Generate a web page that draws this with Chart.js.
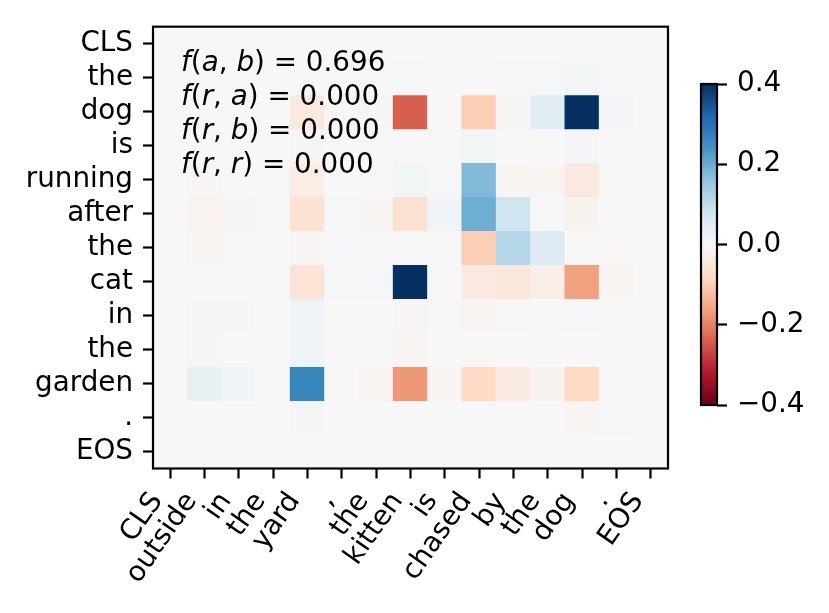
<!DOCTYPE html>
<html>
<head>
<meta charset="utf-8">
<script src="https://cdn.jsdelivr.net/npm/chart.js@4.4.1/dist/chart.umd.min.js"></script>
<style>
    html, body { margin: 0; padding: 0; background: #fff; }
    #wrap { position: relative; width: 829px; height: 613px; overflow: hidden; }
    #heatCanvas { position: absolute; left: 0; top: 0; }
    #barCanvas { position: absolute; left: 690px; top: 0; }
    #note {
        position: absolute; left: 181px; top: 44.7px;
        font-family: "DejaVu Sans"; font-size: 27.8px; line-height: 34px;
        color: #000; white-space: pre;
    }
</style>
</head>
<body>
<div id="wrap">
    <canvas id="heatCanvas" width="690" height="613"></canvas>
    <canvas id="barCanvas" width="139" height="613"></canvas>
    <div id="note"><i>f</i>(<i>a</i>, <i>b</i>) = 0.696
<i>f</i>(<i>r</i>, <i>a</i>) = 0.000
<i>f</i>(<i>r</i>, <i>b</i>) = 0.000
<i>f</i>(<i>r</i>, <i>r</i>) = 0.000</div>
</div>
<script>
// tokens
const rowLabels = ['CLS', 'the', 'dog', 'is', 'running', 'after', 'the', 'cat', 'in', 'the', 'garden', '.', 'EOS'];
const colLabels = ['CLS', 'outside', 'in', 'the', 'yard', ',', 'the', 'kitten', 'is', 'chased', 'by', 'the', 'dog', '.', 'EOS'];

// one array per row, one value per column
const rowCLS     = [0, 0, 0, 0, 0, 0, 0, 0, 0, 0, 0, 0, 0, 0, 0];
const rowThe1    = [0, 0, 0, 0, 0, 0, 0, 0.005, 0, 0, -0.003, 0.005, 0.01, 0, 0];
const rowDog     = [0, 0, 0, 0, -0.04, -0.003, 0.008, -0.24, 0, -0.1, -0.005, 0.045, 0.42, 0.008, 0];
const rowIs      = [0, 0, 0, 0, -0.005, 0, 0, 0, 0.003, 0.01, 0.003, 0, 0.008, 0, 0];
const rowRunning = [0, -0.005, 0, 0, -0.03, 0, 0, 0.01, 0.003, 0.178, -0.008, -0.008, -0.04, 0, 0];
const rowAfter   = [0, -0.012, -0.006, 0, -0.06, 0.004, -0.01, -0.065, 0.015, 0.196, 0.08, 0.002, -0.015, 0, 0];
const rowThe2    = [0, -0.008, -0.004, 0, -0.005, 0.005, 0, 0, 0, -0.1, 0.117, 0.053, 0, -0.004, 0];
const rowCat     = [0, 0.004, 0.004, 0, -0.055, 0.004, 0.004, 0.45, 0, -0.04, -0.045, -0.025, -0.165, -0.008, 0];
const rowIn      = [0, 0.008, 0.006, 0, 0.018, 0, 0, -0.005, 0, -0.01, -0.003, 0, 0.005, 0, 0];
const rowThe3    = [0, 0.006, 0.005, 0, 0.02, 0, 0, -0.008, 0, -0.004, 0, 0, 0, 0, 0];
const rowGarden  = [0, 0.03, 0.015, 0.003, 0.263, 0, -0.008, -0.175, -0.01, -0.08, -0.035, -0.015, -0.08, 0, 0];
const rowDot     = [0, 0, 0, 0, 0.006, 0, 0, 0, 0, 0, 0, 0, -0.01, 0.004, 0];
const rowEOS     = [0, 0, 0, 0, 0, 0, 0, 0, 0, 0, 0, 0, 0, 0, 0];

const rows = [rowCLS, rowThe1, rowDog, rowIs, rowRunning, rowAfter, rowThe2,
              rowCat, rowIn, rowThe3, rowGarden, rowDot, rowEOS];

// colour bar
const vMin = -0.4;
const vMax = 0.4;
const cbTicks = [-0.4, -0.2, 0, 0.2, 0.4];

// RdBu anchor colours
const rdbuStops = [
    [103, 0, 31], [178, 24, 43], [214, 96, 77], [244, 165, 130], [253, 219, 199],
    [247, 247, 247], [209, 229, 240], [146, 197, 222], [67, 147, 195], [33, 102, 172], [5, 48, 97]
];

function rdbu(v) {
    let t = (v - vMin) / (vMax - vMin);
    t = Math.min(1, Math.max(0, t));
    const p = t * 10;
    const i = Math.min(9, Math.floor(p));
    const f = p - i;
    const a = rdbuStops[i];
    const b = rdbuStops[i + 1];
    const c = a.map((x, k) => Math.round(x + (b[k] - x) * f));
    return `rgb(${c[0]}, ${c[1]}, ${c[2]})`;
}

const tickFont = { family: 'DejaVu Sans', size: 27.8 };

// fond + cadre autour de la zone du graphique
const framePlugin = {
    id: 'frame',
    beforeDatasetsDraw(chart, args, opts) {
        const { ctx, chartArea: a } = chart;
        if (opts.fill) {
            ctx.save();
            ctx.fillStyle = opts.fill;
            ctx.fillRect(a.left, a.top, a.right - a.left, a.bottom - a.top);
            ctx.restore();
        }
    },
    afterDraw(chart) {
        const { ctx, chartArea: a } = chart;
        ctx.save();
        ctx.strokeStyle = '#000';
        ctx.lineWidth = 2.2;
        ctx.strokeRect(a.left, a.top, a.right - a.left, a.bottom - a.top);
        ctx.restore();
    }
};

// heatmap: one floating-bar dataset per row
const heatDatasets = rows.map((vals, r) => ({
    label: rowLabels[r],
    data: colLabels.map(() => [r, r + 1]),
    backgroundColor: vals.map(rdbu),
    borderWidth: 0,
    barPercentage: 1,
    categoryPercentage: 1,
    grouped: false,
    inflateAmount: 0.5
}));

new Chart(document.getElementById('heatCanvas'), {
    type: 'bar',
    data: { labels: colLabels, datasets: heatDatasets },
    plugins: [framePlugin],
    options: {
        responsive: false,
        animation: false,
        layout: { padding: { top: 21, right: 22, left: 0, bottom: 0 } },
        plugins: {
            legend: { display: false },
            tooltip: { enabled: false },
            frame: { fill: 'rgb(247, 247, 247)' }
        },
        scales: {
            x: {
                offset: true,
                grid: { offset: false, drawOnChartArea: false, tickLength: 10, tickWidth: 2.2, tickColor: '#000' },
                border: { display: false },
                ticks: {
                    autoSkip: false, minRotation: 55, maxRotation: 55,
                    font: tickFont, color: '#000', padding: 8, labelOffset: -13
                },
                afterFit: (scale) => { scale.height = 613 - 468.5; }
            },
            y: {
                type: 'linear', min: 0, max: 13, reverse: true,
                grid: { drawOnChartArea: false, tickLength: 10, tickWidth: 2.2, tickColor: '#000' },
                border: { display: false },
                afterBuildTicks: (scale) => {
                    scale.ticks = rowLabels.map((_, i) => ({ value: i + 0.5 }));
                },
                ticks: {
                    autoSkip: false, font: tickFont, color: '#000', padding: 10,
                    callback: (value, index) => rowLabels[index]
                },
                afterFit: (scale) => { scale.width = 153; }
            }
        }
    }
});

// colorbar
function gradientFill(context) {
    const chart = context.chart;
    const y = chart.scales.y;
    if (!chart.chartArea || !y) return rdbu(0);
    const g = chart.ctx.createLinearGradient(0, y.getPixelForValue(vMin), 0, y.getPixelForValue(vMax));
    rdbuStops.forEach((c, i) => g.addColorStop(i / 10, `rgb(${c[0]}, ${c[1]}, ${c[2]})`));
    return g;
}

new Chart(document.getElementById('barCanvas'), {
    type: 'bar',
    data: {
        labels: [''],
        datasets: [{
            data: [[vMin, vMax]],
            backgroundColor: gradientFill,
            borderWidth: 0,
            barPercentage: 1,
            categoryPercentage: 1
        }]
    },
    plugins: [framePlugin],
    options: {
        responsive: false,
        animation: false,
        layout: { padding: { top: 84, bottom: 613 - 405, left: 11, right: 0 } },
        plugins: {
            legend: { display: false },
            tooltip: { enabled: false }
        },
        scales: {
            x: { display: false },
            y: {
                position: 'right', min: vMin, max: vMax,
                grid: { drawOnChartArea: false, tickLength: 10, tickWidth: 2.2, tickColor: '#000' },
                border: { display: false },
                afterBuildTicks: (scale) => {
                    scale.ticks = cbTicks.map(v => ({ value: v }));
                },
                ticks: {
                    font: tickFont, color: '#000', padding: 10,
                    callback: (value) => Math.abs(value) < 1e-9 ? '0.0' : (value < 0 ? '\u2212' + Math.abs(value).toFixed(1) : value.toFixed(1))
                },
                afterFit: (scale) => { scale.width = 139 - 27; }
            }
        }
    }
});
</script>
</body>
</html>
